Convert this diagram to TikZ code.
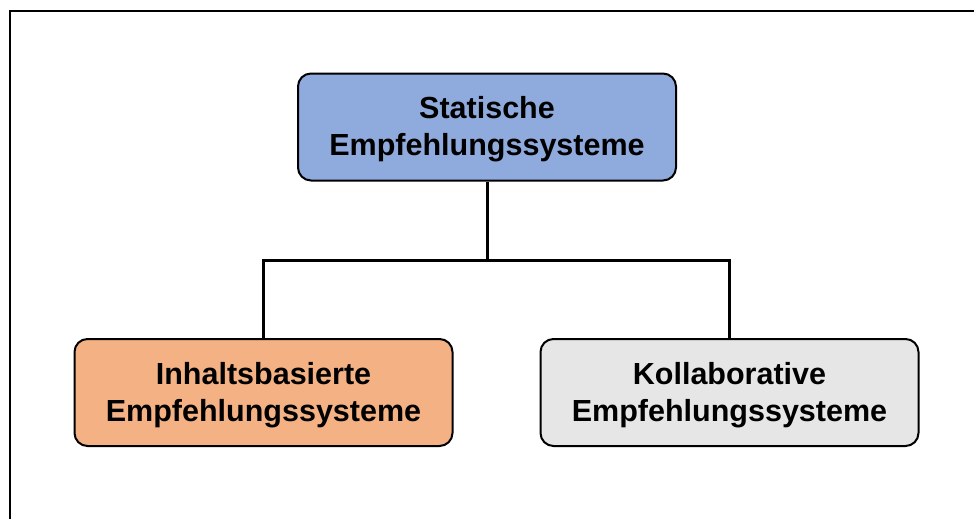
\documentclass[tikz,border=0pt]{standalone}
\usepackage{fontspec}
\setmainfont{Liberation Sans}
\definecolor{topfill}{HTML}{8FAADC}
\definecolor{leftfill}{HTML}{F4B183}
\definecolor{rightfill}{HTML}{E7E6E6}
\begin{document}
\begin{tikzpicture}[x=1pt,y=-1pt,
  catbox/.style={draw=black, line width=2pt, rounded corners=13pt,
    minimum width=378pt, minimum height=107pt, align=center, inner sep=0pt,
    text depth=2pt,
    font=\fontsize{30.5}{37}\selectfont\bfseries},
  link/.style={draw=black, line width=3pt}]
\useasboundingbox (0,0) rectangle (974,519);
% outer frame, running past the right and lower edges
\draw[line width=2.2pt] (10,11) rectangle (1000,560);
% category boxes
\node[catbox, fill=topfill]   (top)   at (487,127)   {Statische\\Empfehlungssysteme};
\node[catbox, fill=leftfill]  (left)  at (263.5,392.5) {Inhaltsbasierte\\Empfehlungssysteme};
\node[catbox, fill=rightfill] (right) at (729.5,392.5) {Kollaborative\\Empfehlungssysteme};
% tree connectors
\coordinate (fork) at (487,260);
\draw[link] (top.south) -- (fork);
\draw[link] (left.north) -- (left.north |- fork) -- (right.north |- fork) -- (right.north);
\end{tikzpicture}
\end{document}
